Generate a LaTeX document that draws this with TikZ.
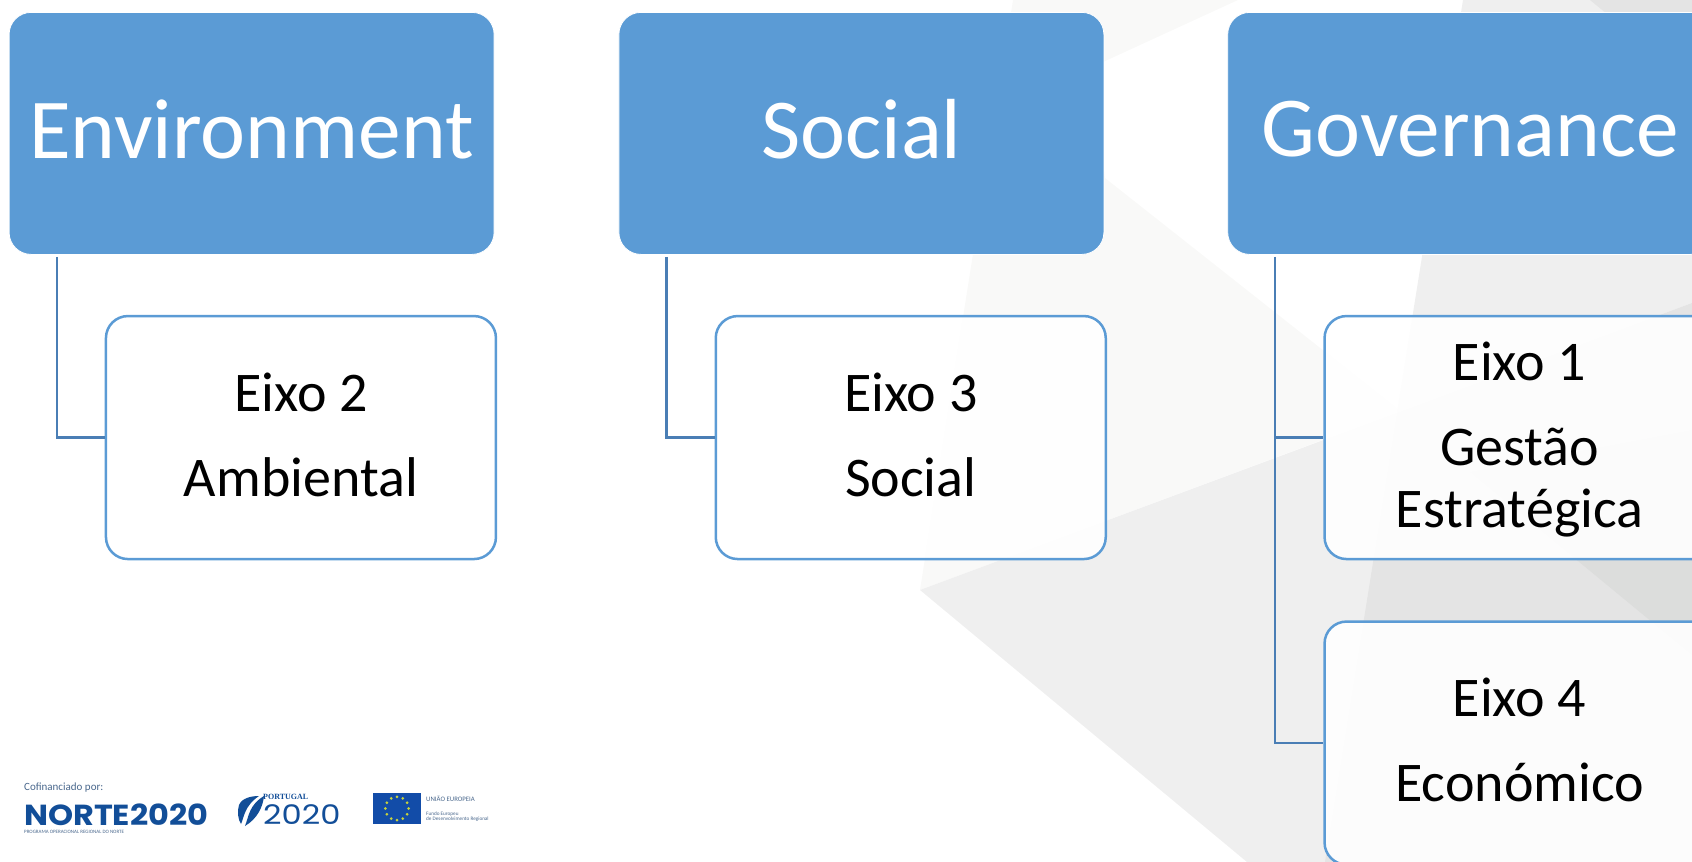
\documentclass[tikz,border=0pt]{standalone}
\usepackage{fontspec}
\setmainfont{Carlito}
\newfontfamily\logofont{Poppins}
\newfontfamily\markfont{Liberation Serif}
\definecolor{boxblue}{HTML}{5B9BD5}
\definecolor{linkblue}{HTML}{4A7EB5}
\definecolor{logoblue}{HTML}{124E98}
\definecolor{flagblue}{HTML}{124CA8}
\definecolor{starcol}{HTML}{C8D23C}
\definecolor{palegray}{HTML}{F9F9F8}
\definecolor{midgray}{HTML}{EFEFEF}
\definecolor{deepgray}{HTML}{E4E4E4}
\definecolor{darkgray}{HTML}{DCDDDC}
\usetikzlibrary{positioning}

\begin{document}
\begin{tikzpicture}[x=1pt, y=1pt,
  rootbox/.style={rectangle, rounded corners=22pt, fill=boxblue, draw=white, line width=0.8pt,
    minimum width=485pt, minimum height=242pt, inner sep=0pt, text=white, anchor=north west,
    text depth=9pt, font=\fontsize{85.3}{100}\selectfont},
  axisbox/.style={rectangle, rounded corners=22pt, fill=white, fill opacity=0.9, text opacity=1,
    draw=boxblue, line width=2.5pt, minimum width=390pt, minimum height=243pt, inner sep=0pt,
    align=center, text=black, text depth=6pt, font=\fontsize{56}{62}\selectfont},
  treeline/.style={draw=linkblue, line width=2.2pt},
  logotext/.style={inner sep=0pt, anchor=west, text=logoblue}]

  \clip (0,0) rectangle (1692,-862);

  % background
  \fill[palegray] (1013,0) -- (1238,0) -- (1090,-68) -- (1105,-178) -- (1400,-411) -- (920,-590) -- cycle;
  \fill[midgray] (920,-590) -- (1692,-303) -- (1692,-862) -- (1247,-862) -- cycle;
  \fill[midgray] (1463,0) -- (1692,0) -- (1692,-303) -- (1397,-413) -- cycle;
  \fill[deepgray] (1397,-413) -- (1692,-303) -- (1692,-862) -- (1325,-862) -- cycle;
  \fill[deepgray] (1590,0) -- (1692,0) -- (1692,-84) -- cycle;
  \fill[darkgray] (1470,-472) -- (1692,-655) -- (1692,-430) -- cycle;

  \node[rootbox] (env) at (8.7,-12) {Environment};
  \node[rootbox, right=124pt of env] (soc) {Social};
  \node[rootbox, right=123pt of soc] (gov) {Governance};

  \node[axisbox, below right=60pt and 96pt of env.south west] (eixo2) {Eixo 2\\[23pt]Ambiental};
  \node[axisbox, below right=60pt and 96pt of soc.south west] (eixo3) {Eixo 3\\[23pt]Social};
  \node[axisbox, below right=60pt and 96pt of gov.south west] (eixo1) {Eixo 1\\[23pt]Gestão\\Estratégica};
  \node[axisbox, below=60pt of eixo1] (eixo4) {Eixo 4\\[23pt]Económico};

  \draw[treeline] ([xshift=48pt,yshift=-2pt]env.south west) |- (eixo2.west);
  \draw[treeline] ([xshift=48pt,yshift=-2pt]soc.south west) |- (eixo3.west);
  \draw[treeline] ([xshift=48pt,yshift=-2pt]gov.south west) |- (eixo1.west);
  \draw[treeline] ([xshift=48pt,yshift=-2pt]gov.south west) |- (eixo4.west);

  % logos
  \node[logotext, text=logoblue!50!gray, font=\fontsize{11}{13}\selectfont] (cofin) at (24,-788) {Cofinanciado por:};
  \node[logotext, font=\logofont\bfseries\fontsize{29}{30}\selectfont, below right=11pt and 0pt of cofin.south west] (norte) {\scalebox{1.1}[1]{NORTE2020}};
  \node[logotext, text=logoblue!50!gray, font=\fontsize{5}{6}\selectfont, below right=4pt and 0pt of norte.south west] (prog) {PROGRAMA OPERACIONAL REGIONAL DO NORTE};

  \fill[logoblue] (259,-796) .. controls (251,-796) and (242,-798) .. (239,-805)
    .. controls (237,-811) and (238,-820) .. (241,-824)
    .. controls (244,-818) and (244,-806) .. (259,-796) -- cycle;
  \fill[logoblue] (264,-796) .. controls (263,-807) and (257,-819) .. (245,-826)
    .. controls (249,-816) and (249,-805) .. (264,-796) -- cycle;
  \node[logotext, font=\markfont\bfseries\fontsize{8}{9}\selectfont] (port) at (263,-797) {PORTUGAL};
  \node[logotext, font=\logofont\fontsize{27}{30}\selectfont] (pt2020) at (263,-815) {\scalebox{1.19}[1]{2020}};

  \node[rectangle, fill=flagblue, minimum width=48pt, minimum height=31pt, inner sep=0pt] (flag) at (397,-808.5) {};
  \foreach \a in {0,30,...,330}
    \fill[starcol] (flag.center) ++(\a:11.7) circle (1.5);
  \node[logotext, text=logoblue!50!gray, font=\fontsize{6.8}{8}\selectfont] (uniao) at (426,-799) {UNIÃO EUROPEIA};
  \node[logotext, text=logoblue!50!gray, font=\fontsize{5.2}{5.5}\selectfont, align=left] (fundo) at (426,-816.5) {Fundo Europeu\\de Desenvolvimento Regional};

\end{tikzpicture}
\end{document}
